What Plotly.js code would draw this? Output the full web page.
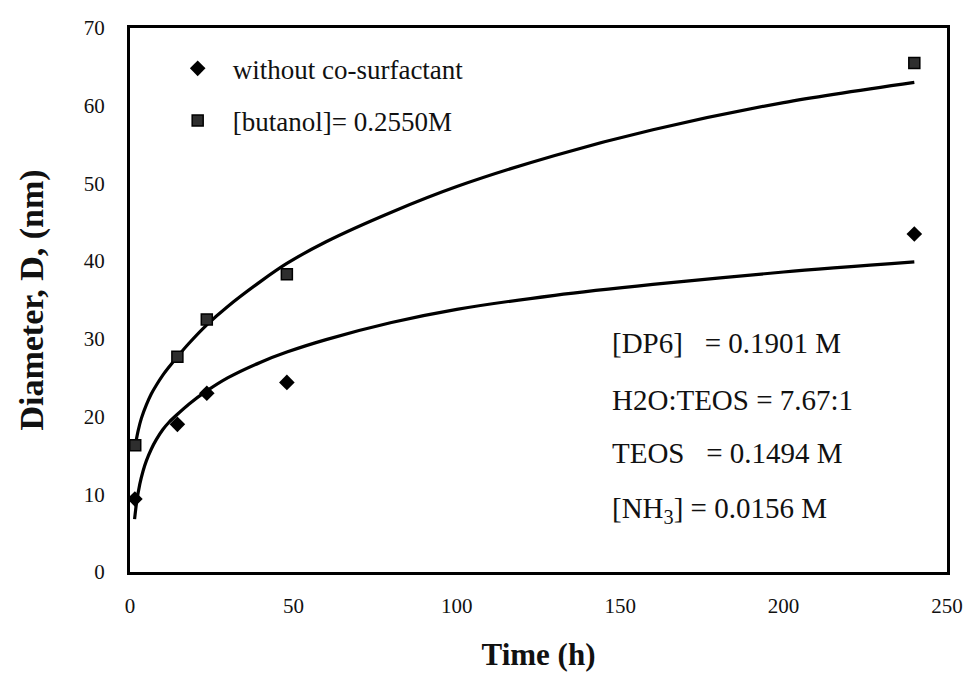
<!DOCTYPE html>
<html>
<head>
<meta charset="utf-8">
<script src="https://cdn.plot.ly/plotly-3.0.1.min.js"></script>
<style>html,body{margin:0;padding:0;background:#fff;}#chart{width:967px;height:673px;}</style>
</head>
<body>
<div id="chart"></div>
<script>
// Measured points
const timeNoCo = [1.5, 14.5, 23.5, 48, 240];
const diamNoCo = [9.4, 19.0, 23.0, 24.4, 43.5];
const timeBut = [1.6, 14.5, 23.5, 48, 240];
const diamBut = [16.3, 27.7, 32.5, 38.3, 65.5];
// Fitted curves
const fitTimeNoCo = [1.4, 2, 3, 4, 5, 6.5, 8, 10, 12, 14.5, 18, 23.5, 30, 40, 48, 60, 80, 100, 130, 160, 200, 240];
const fitDiamNoCo = [6.8, 8.9, 11.3, 13.0, 14.3, 15.8, 17.0, 18.3, 19.3, 20.3, 21.6, 23.3, 25.0, 27.0, 28.3, 29.9, 32.1, 33.8, 35.6, 37.0, 38.6, 39.9];
const fitTimeBut = [1.7, 2.5, 3.5, 5, 6.5, 8, 10, 12, 14.5, 18, 23.5, 30, 40, 48, 60, 80, 100, 130, 160, 200, 240];
const fitDiamBut = [16.5, 18.2, 19.8, 21.5, 22.9, 24.0, 25.3, 26.4, 27.7, 29.4, 31.8, 34.2, 37.4, 39.7, 42.5, 46.3, 49.6, 53.6, 56.9, 60.4, 63.0];
const xTicks = [0, 50, 100, 150, 200, 250];
const yTicks = [0, 10, 20, 30, 40, 50, 60, 70];
const legendNames = ['without co-surfactant', '[butanol]= 0.2550M'];
const noteLines = ['[DP6]\u00a0\u00a0\u00a0= 0.1901 M', 'H2O:TEOS = 7.67:1', 'TEOS\u00a0\u00a0\u00a0= 0.1494 M', '[NH<sub>3</sub>] = 0.0156 M'];
const noteY = [29.5, 22.1, 15.3, 8.0];

const serif = 'Liberation Serif, Times New Roman, serif';

const traces = [
  {x: fitTimeNoCo, y: fitDiamNoCo, mode: 'lines', line: {color: '#000', width: 3.2, shape: 'spline', smoothing: 0.8}, showlegend: false, hoverinfo: 'skip'},
  {x: fitTimeBut, y: fitDiamBut, mode: 'lines', line: {color: '#000', width: 3.2, shape: 'spline', smoothing: 0.8}, showlegend: false, hoverinfo: 'skip'},
  {x: timeNoCo, y: diamNoCo, mode: 'markers', name: legendNames[0], legendgroup: 'a',
   marker: {symbol: 'diamond', size: 12, color: '#000'}},
  {x: timeBut, y: diamBut, mode: 'markers', name: legendNames[1], legendgroup: 'b',
   marker: {symbol: 'square', size: 11, color: '#2e2e2e', line: {color: '#000', width: 1.5}}}
];

const annotations = noteLines.map((t, i) => ({
  x: 147, y: noteY[i], xref: 'x', yref: 'y', xanchor: 'left', yanchor: 'middle',
  text: t, showarrow: false, font: {family: serif, size: 29, color: '#111'}
}));

const layout = {
  width: 967, height: 673,
  margin: {l: 130, r: 20, t: 28, b: 101},
  paper_bgcolor: '#fff', plot_bgcolor: '#fff',
  font: {family: serif, color: '#111'},
  xaxis: {
    range: [0, 250], tickvals: xTicks, ticks: '', showgrid: false, zeroline: false,
    showline: true, linecolor: '#000', linewidth: 3, mirror: true,
    tickfont: {family: serif, size: 21, color: '#111'}, ticklabelstandoff: 13,
    title: {text: '<b>Time (h)</b>', font: {family: serif, size: 31, color: '#111'}, standoff: 27}
  },
  yaxis: {
    range: [0, 70], tickvals: yTicks, ticks: '', showgrid: false, zeroline: false,
    showline: true, linecolor: '#000', linewidth: 3, mirror: true,
    tickfont: {family: serif, size: 21, color: '#111'}, ticklabelstandoff: 18,
    title: {text: '<b>Diameter, D, (nm)</b>', font: {family: serif, size: 34, color: '#111'}, standoff: 30}
  },
  legend: {
    x: 0.04, y: 0.97, xanchor: 'left', yanchor: 'top', bgcolor: 'rgba(0,0,0,0)',
    font: {family: serif, size: 27, color: '#111'}, itemwidth: 60, tracegroupgap: 14
  },
  annotations: annotations,
  showlegend: true
};

Plotly.newPlot('chart', traces, layout, {displayModeBar: false, staticPlot: true});
</script>
</body>
</html>
